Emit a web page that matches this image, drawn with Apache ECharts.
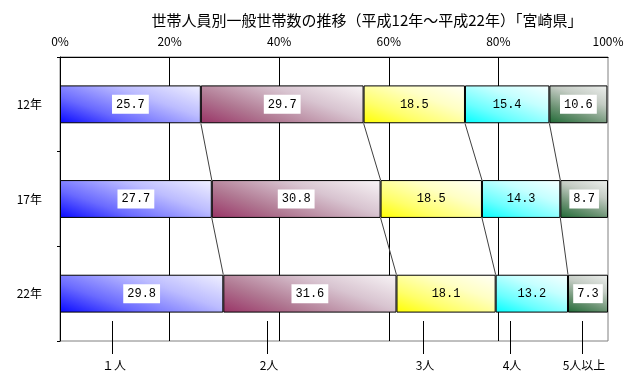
<!DOCTYPE html>
<html>
<head>
<meta charset="utf-8">
<script src="https://cdn.jsdelivr.net/npm/echarts@6/dist/echarts.min.js"></script>
<style>
html,body{margin:0;padding:0;background:#fff;}
#main{width:630px;height:379px;}
</style>
</head>
<body>
<div id="main"></div>
<script>
// ---- data ----
var title = '世帯人員別一般世帯数の推移（平成12年～平成22年）「宮崎県」';
var categories = ['12年', '17年', '22年'];
var seriesNames = ['１人', '2人', '3人', '4人', '5人以上'];
var s1 = [25.7, 27.7, 29.8];
var s2 = [29.7, 30.8, 31.6];
var s3 = [18.5, 18.5, 18.1];
var s4 = [15.4, 14.3, 13.2];
var s5 = [10.6, 8.7, 7.3];
var xTicks = { min: 0, max: 100, interval: 20 };

// ---- styles / layout ----
var gradStops = [
  ['#0808ff', '#6a6aff', '#bcbcff', '#f0f0ff'],
  ['#993366', '#b07892', '#d8c4d0', '#f8f4f6'],
  ['#ffff00', '#ffff6a', '#ffffc4', '#fffff6'],
  ['#00ffff', '#6affff', '#c4ffff', '#f6ffff'],
  ['#1f6a35', '#6a9272', '#c4ccc4', '#eef0ee']
];
var labelBoxed = [true, true, false, false, true];
var legendX = [112, 267, 423, 510, 582]; // pixel positions of bottom annotations
var gridBox = { left: 60, right: 22, top: 57, bottom: 38 };
var plotW = 630 - gridBox.left - gridBox.right;
var barH = 38;
var monoFont = '"Liberation Mono", "DejaVu Sans Mono", monospace';
var jpFont = '"Noto Sans CJK JP", "Noto Sans", sans-serif';

var values = [s1, s2, s3, s4, s5];

// diagonal gradient: dark at bottom-left, light at top-right, isolines at ~20deg
function makeGrad(k, v) {
  var w = Math.max(v / 100 * plotW, 1), h = barH;
  var ang = 20 * Math.PI / 180;
  var ux = Math.sin(ang), uy = Math.cos(ang);
  var L = ux * w + uy * h;
  var g = gradStops[k];
  return new echarts.graphic.LinearGradient(0, 1, L * ux / w, 1 - L * uy / h, [
    { offset: 0, color: g[0] },
    { offset: 0.3, color: g[1] },
    { offset: 0.65, color: g[2] },
    { offset: 1, color: g[3] }
  ]);
}

var chart = echarts.init(document.getElementById('main'), null, { renderer: 'canvas' });

var series = values.map(function (vals, k) {
  return {
    name: seriesNames[k],
    type: 'bar',
    stack: 'total',
    barWidth: '40%',
    data: vals.map(function (v) {
      return { value: v, itemStyle: { color: makeGrad(k, v) } };
    }),
    itemStyle: { borderColor: '#000', borderWidth: 1 },
    label: {
      show: true,
      position: 'inside',
      color: '#000',
      fontFamily: monoFont,
      fontSize: 12,
      backgroundColor: labelBoxed[k] ? '#fff' : 'transparent',
      padding: [4, 4, 3, 4],
      formatter: function (p) { return p.value.toFixed(1); }
    },
    emphasis: { disabled: true },
    z: 3
  };
});

// series lines (connectors between cumulative boundaries)
var connectorData = [];
for (var i = 0; i < categories.length - 1; i++) {
  var cumA = 0, cumB = 0;
  for (var k = 0; k < values.length - 1; k++) {
    cumA += values[k][i];
    cumB += values[k][i + 1];
    connectorData.push([cumA, cumB, i]);
  }
}
series.push({
  type: 'custom',
  data: connectorData,
  encode: { x: [0, 1], y: 2 },
  silent: true,
  z: 4,
  renderItem: function (params, api) {
    var p1 = api.coord([api.value(0), api.value(2)]);
    var p2 = api.coord([api.value(1), api.value(2) + 1]);
    var band = api.size([0, 1])[1];
    var half = band * 0.4 / 2;
    return {
      type: 'line',
      shape: { x1: p1[0], y1: p1[1] + half, x2: p2[0], y2: p2[1] - half },
      style: { stroke: '#404040', lineWidth: 1 }
    };
  }
});

var graphics = [];
seriesNames.forEach(function (n, k) {
  graphics.push({
    type: 'line',
    shape: { x1: legendX[k] + 0.5, y1: 321, x2: legendX[k] + 0.5, y2: 354 },
    style: { stroke: '#000', lineWidth: 1 },
    z: 10
  });
  graphics.push({
    type: 'text',
    x: legendX[k] + 2,
    y: 365,
    style: {
      text: n,
      fill: '#000',
      font: '12px ' + jpFont,
      textAlign: 'center',
      textVerticalAlign: 'middle'
    },
    z: 10
  });
});

chart.setOption({
  animation: false,
  backgroundColor: '#fff',
  title: {
    text: title,
    left: 362,
    top: 8,
    textAlign: 'center',
    textStyle: { fontFamily: jpFont, fontSize: 15, fontWeight: 'normal', color: '#000' }
  },
  grid: {
    left: gridBox.left, right: gridBox.right, top: gridBox.top, bottom: gridBox.bottom,
    show: true, borderColor: '#808080', borderWidth: 1, backgroundColor: 'transparent'
  },
  xAxis: {
    type: 'value',
    position: 'top',
    min: xTicks.min, max: xTicks.max, interval: xTicks.interval,
    axisLine: { show: true, lineStyle: { color: '#000', width: 1 } },
    axisTick: { show: false },
    axisLabel: {
      formatter: '{value}%', color: '#000', fontSize: 12, fontFamily: jpFont, margin: 10
    },
    splitLine: { show: true, showMinLine: false, showMaxLine: false, lineStyle: { color: '#000', width: 1 } }
  },
  yAxis: {
    type: 'category',
    inverse: true,
    data: categories,
    axisLine: { show: true, lineStyle: { color: '#000', width: 1 } },
    axisTick: { show: true, length: 3, lineStyle: { color: '#000' } },
    axisLabel: { color: '#000', fontSize: 12, fontFamily: jpFont, margin: 18 },
    splitLine: { show: false }
  },
  series: series,
  graphic: graphics
});
</script>
</body>
</html>
